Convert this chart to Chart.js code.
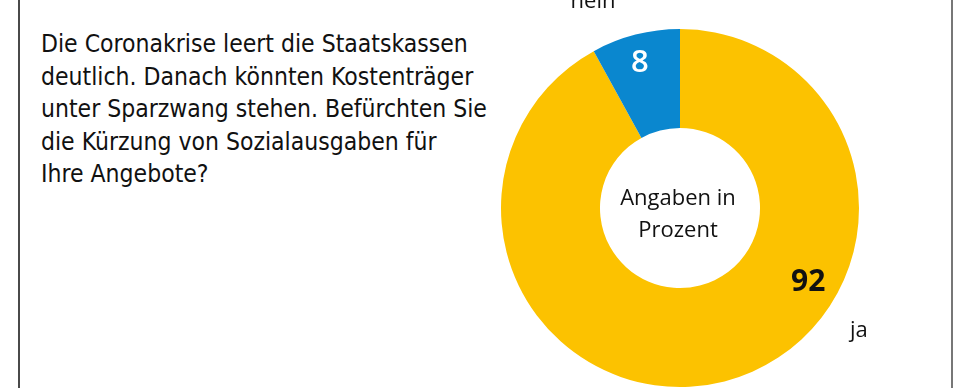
<!DOCTYPE html>
<html><head><meta charset="utf-8">
<script src="https://cdn.jsdelivr.net/npm/chart.js@4.4.0/dist/chart.umd.min.js"></script>
<style>
html,body{margin:0;padding:0;background:#fff;}
#wrap{position:relative;width:970px;height:388px;overflow:hidden;background:#fff;}
#frame{position:absolute;left:18px;top:0;width:935px;height:388px;border-left:2px solid #4a4a4a;border-right:2px solid #777;box-sizing:border-box;}
#q{position:absolute;left:41px;top:28px;font-family:"DejaVu Sans Condensed","DejaVu Sans",sans-serif;font-size:24.5px;line-height:32.5px;color:#111;white-space:nowrap;}
canvas{position:absolute;left:0;top:0;}
</style>
</head><body>
<div id="wrap">
<div id="frame"></div>
<div id="q">Die Coronakrise leert die Staatskassen<br>deutlich. Danach könnten Kostenträger<br>unter Sparzwang stehen. Befürchten Sie<br>die Kürzung von Sozialausgaben für<br>Ihre Angebote?</div>
<canvas id="c" width="970" height="388"></canvas>
</div>
<script>
const categories = ['ja', 'nein'];
const values = [92, 8];
const colors = ['#FCC200', '#0A87CF'];
const centerLines = ['Angaben in', 'Prozent'];

// label placement: angle in degrees clockwise from top, radius as fraction of outer radius
const valueLabelPos = [{a: 120, r: 0.827, color: '#111', font: 'bold 30px "Open Sans"'},
                       {a: -15.5, r: 0.84, color: '#fff', font: '600 31px "Open Sans"'}];
const catLabelPos = [{a: 125.8, r: 1.232}, {a: -23.5, r: 1.218}];

const labelPlugin = {
  id: 'labels',
  afterDatasetsDraw(chart) {
    const ctx = chart.ctx;
    const meta = chart.getDatasetMeta(0);
    const arc0 = meta.data[0];
    const cx = arc0.x, cy = arc0.y, R = arc0.outerRadius;
    ctx.save();
    meta.data.forEach((arc, i) => {
      const v = valueLabelPos[i];
      const ang = (v.a - 90) * Math.PI / 180;
      ctx.font = v.font;
      ctx.fillStyle = v.color;
      ctx.textAlign = 'center';
      ctx.textBaseline = 'middle';
      ctx.fillText(String(values[i]), cx + Math.cos(ang) * R * v.r, cy + Math.sin(ang) * R * v.r);
      const c = catLabelPos[i];
      const ang2 = (c.a - 90) * Math.PI / 180;
      ctx.font = '22px "Open Sans"';
      ctx.fillStyle = '#111';
      ctx.textBaseline = 'alphabetic';
      ctx.fillText(categories[i], cx + Math.cos(ang2) * R * c.r, cy + Math.sin(ang2) * R * c.r);
    });
    ctx.font = '500 22px "Open Sans"';
    ctx.fillStyle = '#111';
    ctx.textAlign = 'center';
    ctx.textBaseline = 'alphabetic';
    ctx.fillText(centerLines[0], cx - 2, cy - 3);
    ctx.fillText(centerLines[1], cx - 2, cy + 29);
    ctx.restore();
  }
};

new Chart(document.getElementById('c'), {
  type: 'doughnut',
  data: {
    labels: categories,
    datasets: [{data: values, backgroundColor: colors, borderWidth: 0}]
  },
  options: {
    responsive: false,
    animation: false,
    cutout: '44.7%',
    layout: {padding: {left: 501, right: 111, top: 29, bottom: 1}},
    plugins: {legend: {display: false}, tooltip: {enabled: false}}
  },
  plugins: [labelPlugin]
});
</script>
</body></html>
